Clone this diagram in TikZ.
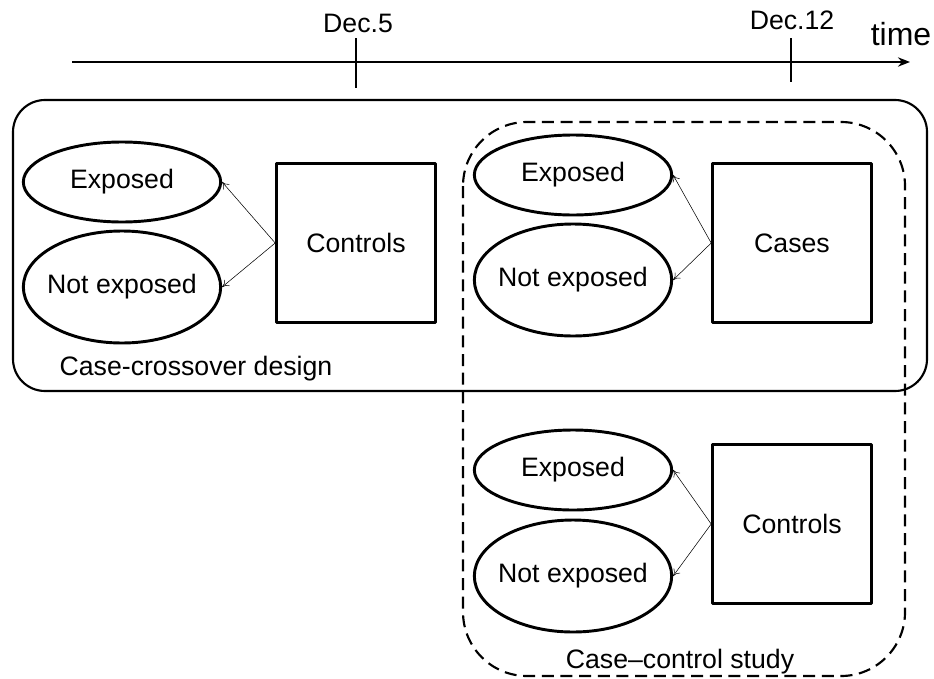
\documentclass[tikz,border=0pt]{standalone}
\usepackage{fontspec}
\setmainfont{Liberation Sans}
\usetikzlibrary{arrows.meta,shapes.geometric}

\tikzset{
  expo/.style={ellipse,draw,line width=2.2pt,minimum width=148pt,inner xsep=-4pt,inner ysep=0pt},
  grp/.style={rectangle,draw,line width=2.2pt,minimum width=119pt,minimum height=119pt},
  lnk/.style={thin,-{To[length=5pt,width=6pt]}},
}

\begin{document}
\begin{tikzpicture}[x=0.75pt,y=-0.75pt,line join=round,font=\fontsize{20}{23}\selectfont]
  \useasboundingbox (0,0) rectangle (934,678);
  % time axis
  \coordinate (T0) at (72,62);
  \coordinate (T1) at (910,62);
  \draw[line width=1.6pt,-{Stealth[length=9pt,width=7pt]}] (T0) -- (T1);
  \draw[line width=1.6pt] (356,38) -- (356,88);
  \draw[line width=1.6pt] (791,38) -- (791,82);
  \node (d5) at (358,23) {Dec.5};
  \node (d12) at (792,20) {Dec.12};
  \node[font=\fontsize{24}{28}\selectfont] (time) at (901,34) {time};
  % study frames
  \draw[line width=1.6pt,rounded corners=24pt] (13,100) rectangle (927,391);
  \draw[line width=1.6pt,dashed,dash pattern=on 9pt off 5pt,rounded corners=48pt] (463,122) rectangle (905,676);
  \node (ccd) at (196,369) {Case-crossover design};
  \node (ccs) at (680,662) {Case--control study};
  % case-crossover controls
  \node[expo,minimum height=60pt] (e1) at (122,182) {Exposed};
  \node[expo,minimum height=84pt] (n1) at (122,287) {Not exposed};
  \node[grp] (c1) at (356,243) {Controls};
  \draw[lnk] (c1.west) -- (e1.east);
  \draw[lnk] (c1.west) -- (n1.east);
  % cases
  \node[expo,minimum height=60pt] (e2) at (573,175) {Exposed};
  \node[expo,minimum height=84pt] (n2) at (573,280) {Not exposed};
  \node[grp] (c2) at (792,243) {Cases};
  \draw[lnk] (c2.west) -- (e2.east);
  \draw[lnk] (c2.west) -- (n2.east);
  % case-control controls
  \node[expo,minimum height=60pt] (e3) at (573,470) {Exposed};
  \node[expo,minimum height=84pt] (n3) at (573,576) {Not exposed};
  \node[grp] (c3) at (792,524) {Controls};
  \draw[lnk] (c3.west) -- (e3.east);
  \draw[lnk] (c3.west) -- (n3.east);
\end{tikzpicture}
\end{document}
